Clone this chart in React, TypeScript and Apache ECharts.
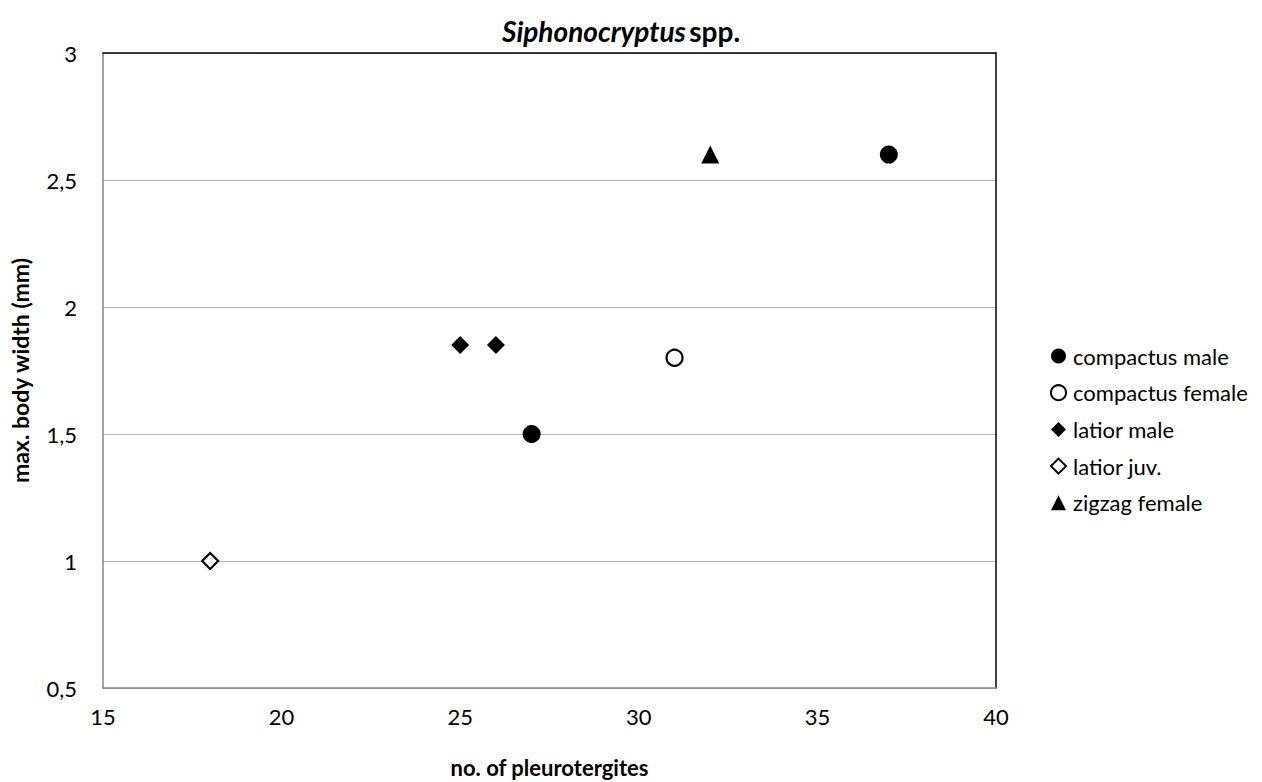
import React, { useEffect, useRef } from "react";
import * as echarts from "echarts";

const seriesNames = ["compactus male", "compactus female", "latior male", "latior juv.", "zigzag female"];
const compactusMale: number[][] = [[27, 1.5], [37, 2.6]];
const compactusFemale: number[][] = [[31, 1.8]];
const latiorMale: number[][] = [[25, 1.85], [26, 1.85]];
const latiorJuv: number[][] = [[18, 1.0]];
const zigzagFemale: number[][] = [[32, 2.6]];

const FONT = "Lato, 'Open Sans', sans-serif";

export default function App() {
  const ref = useRef<HTMLDivElement>(null);
  useEffect(() => {
    if (!ref.current) return;
    const chart = echarts.init(ref.current, undefined, { renderer: "svg" });
    const filled = { color: "#000000", opacity: 1 };
    const hollow = { color: "#ffffff", borderColor: "#000000", borderWidth: 2.2, opacity: 1 };
    chart.setOption({
      animation: false,
      backgroundColor: "#ffffff",
      textStyle: { fontFamily: FONT },
      graphic: [
        {
          type: "text",
          left: 502,
          top: 17,
          style: {
            text: "{i|Siphonocryptus} {b|spp.}",
            rich: {
              i: { fontFamily: FONT, fontSize: 28, fontWeight: "bold", fontStyle: "italic", fill: "#000" },
              b: { fontFamily: FONT, fontSize: 28, fontWeight: "bold", fill: "#000" },
            },
          },
        },
      ],
      grid: { left: 103, right: 266, top: 53, bottom: 94, show: false, containLabel: false, outerBoundsMode: "none" },
      legend: {
        orient: "vertical",
        left: 1045,
        top: 340,
        itemWidth: 15,
        itemHeight: 15,
        itemGap: 14.7,
        textStyle: { fontFamily: FONT, fontSize: 22, color: "#000", padding: [0, 0, 0, 2] },
        data: seriesNames,
      },
      xAxis: [
        {
          type: "value",
          min: 15,
          max: 40,
          interval: 5,
          name: "no. of pleurotergites",
          nameLocation: "middle",
          nameGap: 68,
          nameTextStyle: { fontFamily: FONT, fontSize: 22, fontWeight: "bold", color: "#000", lineHeight: 22 },
          axisLine: { show: true, lineStyle: { color: "#868686", width: 1.5 } },
          axisTick: { show: false },
          splitLine: { show: false },
          axisLabel: { fontFamily: FONT, fontSize: 22, color: "#000", margin: 17 },
        },
        {
          type: "value",
          position: "top",
          min: 15,
          max: 40,
          axisLine: { show: true, onZero: false, lineStyle: { color: "#000", width: 1.5 } },
          axisTick: { show: false },
          axisLabel: { show: false },
          splitLine: { show: false },
        },
      ],
      yAxis: [
        {
          type: "value",
          min: 0.5,
          max: 3,
          interval: 0.5,
          name: "max. body width (mm)",
          nameLocation: "middle",
          nameGap: 72,
          nameTextStyle: { fontFamily: FONT, fontSize: 23, fontWeight: "bold", color: "#000" },
          axisLine: { show: true, lineStyle: { color: "#868686", width: 1.5 } },
          axisTick: { show: false },
          splitLine: { show: true, lineStyle: { color: "#b3b3b3", width: 1.2 } },
          axisLabel: {
            fontFamily: FONT,
            fontSize: 22,
            color: "#000",
            margin: 26,
            formatter: (v: number) => String(v).replace(".", ","),
          },
        },
        {
          type: "value",
          position: "right",
          min: 0.5,
          max: 3,
          axisLine: { show: true, onZero: false, lineStyle: { color: "#000", width: 1.5 } },
          axisTick: { show: false },
          axisLabel: { show: false },
          splitLine: { show: false },
        },
      ],
      series: [
        { name: seriesNames[0], type: "scatter", data: compactusMale, symbol: "circle", symbolSize: 18, itemStyle: filled, z: 5 },
        { name: seriesNames[1], type: "scatter", data: compactusFemale, symbol: "circle", symbolSize: 16, itemStyle: hollow, z: 5 },
        { name: seriesNames[2], type: "scatter", data: latiorMale, symbol: "diamond", symbolSize: 18, itemStyle: filled, z: 5 },
        { name: seriesNames[3], type: "scatter", data: latiorJuv, symbol: "diamond", symbolSize: 16, itemStyle: hollow, z: 5 },
        { name: seriesNames[4], type: "scatter", data: zigzagFemale, symbol: "triangle", symbolSize: 18, itemStyle: filled, z: 5 },
      ],
    });
    return () => chart.dispose();
  }, []);
  return <div ref={ref} style={{ width: 1262, height: 782, position: "absolute", left: 0, top: 0 }} />;
}
